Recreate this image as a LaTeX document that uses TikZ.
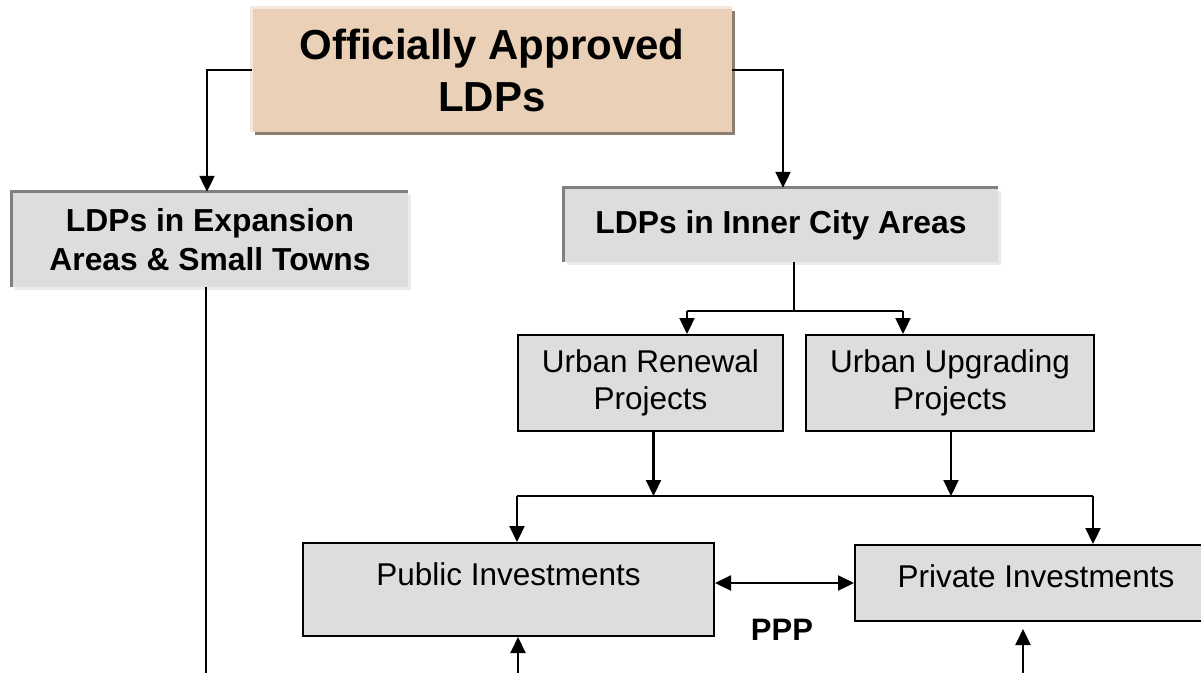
\documentclass[tikz,border=0pt]{standalone}
\usepackage{fontspec}
\setmainfont{Liberation Sans}
\usetikzlibrary{arrows.meta,shadows}

\definecolor{tanfill}{RGB}{233,208,183}
\definecolor{tanrim}{RGB}{244,232,220}
\definecolor{tanshade}{RGB}{140,126,113}
\definecolor{boxgray}{RGB}{221,221,221}
\definecolor{rimgray}{RGB}{128,128,128}
\definecolor{shadegray}{RGB}{234,234,234}

\tikzset{
  flow/.style={line width=2.2pt,-{Triangle[width=15pt,length=16pt]}},
  link/.style={line width=2.2pt},
  titlebox/.style={fill=tanfill, inner sep=0pt, align=center,
    font=\fontsize{42}{52}\selectfont\bfseries,
    drop shadow={shadow xshift=3pt, shadow yshift=-3pt, fill=tanshade, opacity=1}},
  areabox/.style={fill=boxgray, inner sep=0pt, align=center,
    font=\fontsize{31.8}{39}\selectfont\bfseries,
    drop shadow={shadow xshift=3pt, shadow yshift=-3pt, fill=shadegray, opacity=1}},
  projbox/.style={fill=boxgray, draw=black, line width=2pt, inner sep=0pt, align=center,
    font=\fontsize{31.5}{37}\selectfont},
  investbox/.style={projbox, anchor=north west, inner ysep=0pt, text height=42pt}
}

\begin{document}
\begin{tikzpicture}[x=1pt,y=-1pt]
\useasboundingbox (0,0) rectangle (1201,673);

% boxes
\node[titlebox, minimum width=480pt, minimum height=124pt] (Top) at (492,70) {Officially Approved\\LDPs};
\draw[tanrim, line width=3pt] (Top.south west) -- (Top.north west) -- (Top.north east);

\node[areabox, minimum width=396pt, minimum height=95pt] (Expansion) at (210,239.5) {LDPs in Expansion\\Areas \& Small Towns};
\draw[rimgray, line width=3pt] (Expansion.south west) -- (Expansion.north west) -- (Expansion.north east);

\node[areabox, minimum width=434pt, minimum height=74pt] (Inner) at (781,225) {LDPs in Inner City Areas};
\draw[rimgray, line width=3pt] (Inner.south west) -- (Inner.north west) -- (Inner.north east);

\node[projbox, minimum width=265pt, minimum height=96pt] (Renewal) at (650.5,383) {Urban Renewal\\Projects};
\node[projbox, minimum width=288pt, minimum height=96pt] (Upgrading) at (950,383) {Urban Upgrading\\Projects};

\node[investbox, minimum width=411pt, text depth=51pt] (Public) at (302,542) {Public Investments};
\node[investbox, minimum width=362pt, text depth=34pt] (Private) at (854,544) {Private Investments};

\node[font=\fontsize{31}{37}\selectfont\bfseries] (PPP) at (782,630) {PPP};

\coordinate (Split) at (794,311);
\coordinate (SplitL) at (687,311);
\coordinate (SplitR) at (903,311);
\coordinate (MergeL) at (517,496);
\coordinate (MergeR) at (1093,496);
\coordinate (ExpEnd) at (206,673);
\coordinate (PubIn) at (518,673);
\coordinate (PrivIn) at (1023,673);

% connectors
\draw[flow] (Top.west) -| ([xshift=-3pt]Expansion.north);
\draw[flow] (Top.east) -| ([xshift=2pt]Inner.north);
\draw[link] (Expansion.south -| ExpEnd) -- (ExpEnd);

\draw[link] (Inner.south -| Split) -- (Split);
\draw[link] (SplitL) -- (SplitR);
\draw[flow] (SplitL) -- (SplitL |- Renewal.north);
\draw[flow] (SplitR) -- (SplitR |- Upgrading.north);

\draw[flow] ([xshift=3pt]Renewal.south) -- ([xshift=3pt]Renewal.south |- MergeL);
\draw[flow] ([xshift=1pt]Upgrading.south) -- ([xshift=1pt]Upgrading.south |- MergeL);
\draw[link] (MergeL) -- (MergeR);
\draw[flow] (MergeL) -- (MergeL |- Public.north);
\draw[flow] (MergeR) -- (MergeR |- Private.north);

\draw[flow, {Triangle[width=15pt,length=16pt]}-{Triangle[width=15pt,length=16pt]}] (Public.east |- Private.west) -- (Private.west);

\draw[flow] (PubIn) -- (PubIn |- Public.south);
\draw[flow] (PrivIn) -- ([yshift=-7pt]PrivIn |- Private.south);

\end{tikzpicture}
\end{document}
